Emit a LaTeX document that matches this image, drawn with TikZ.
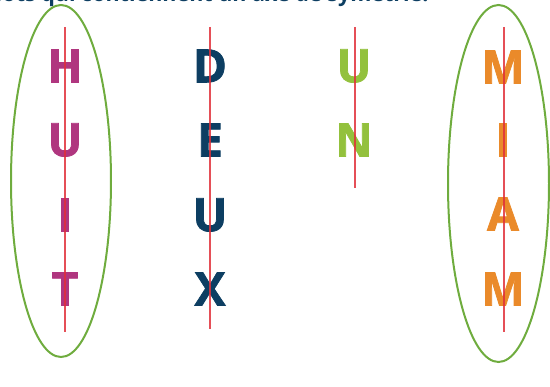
\documentclass[tikz,border=0pt]{standalone}
\usepackage{fontspec}
\setmainfont{Open Sans}
\newfontfamily\heavyfont{Open Sans}[BoldFeatures={FakeBold=1.6}]
\definecolor{magenta1}{HTML}{B0367F}
\definecolor{navy1}{HTML}{0D3E62}
\definecolor{green1}{HTML}{93C13D}
\definecolor{orange1}{HTML}{EA8A2A}
\definecolor{axisred}{HTML}{E0303A}
\definecolor{ringgreen}{HTML}{6FAC3E}
\tikzset{
  letter/.style={inner sep=0pt, anchor=center, font=\fontsize{46}{46}\heavyfont\bfseries},
  axis/.style={draw=axisred, line width=1.3pt, opacity=0.85},
  ring/.style={draw=ringgreen, line width=2pt},
}
\begin{document}
\begin{tikzpicture}[x=1pt,y=-1pt]
\useasboundingbox (0,0) rectangle (550,387);
\begin{scope}
\clip (0,0) rectangle (550,387);
\node[anchor=base west, inner sep=0pt, text=navy1, font=\fontsize{21.5}{21.5}\selectfont\bfseries] (title) at (-18,1.5) {Mots qui contiennent un axe de symétrie.};
% ellipses
\draw[ring] (61,181) ellipse [x radius=50, y radius=176];
\draw[ring] (498.5,183.5) ellipse [x radius=50.5, y radius=178.5];
% HUIT
\node[letter, text=magenta1] (h1) at (65,66) {H};
\node[letter, text=magenta1] (h2) at (65,140) {U};
\node[letter, text=magenta1] (h3) at (65,215) {I};
\node[letter, text=magenta1] (h4) at (65,289) {T};
% DEUX
\node[letter, text=navy1] (d1) at (210,66) {D};
\node[letter, text=navy1] (d2) at (210,140) {E};
\node[letter, text=navy1] (d3) at (210,215) {U};
\node[letter, text=navy1] (d4) at (210,289) {X};
% UN
\node[letter, text=green1] (u1) at (354,66) {U};
\node[letter, text=green1] (u2) at (354,140) {N};
% MIAM
\node[letter, text=orange1] (m1) at (503,67) {M};
\node[letter, text=orange1] (m2) at (503,140) {I};
\node[letter, text=orange1] (m3) at (503,214) {A};
\node[letter, text=orange1] (m4) at (503,289) {M};
% axes
\coordinate (a1t) at (65,27); \coordinate (a1b) at (65,332);
\coordinate (a2t) at (210,27); \coordinate (a2b) at (210,329);
\coordinate (a3t) at (355,27); \coordinate (a3b) at (355,188);
\coordinate (a4t) at (504,27); \coordinate (a4b) at (504,332);
\draw[axis] (a1t) -- (a1b);
\draw[axis] (a2t) -- (a2b);
\draw[axis] (a3t) -- (a3b);
\draw[axis] (a4t) -- (a4b);
\end{scope}
\end{tikzpicture}
\end{document}
